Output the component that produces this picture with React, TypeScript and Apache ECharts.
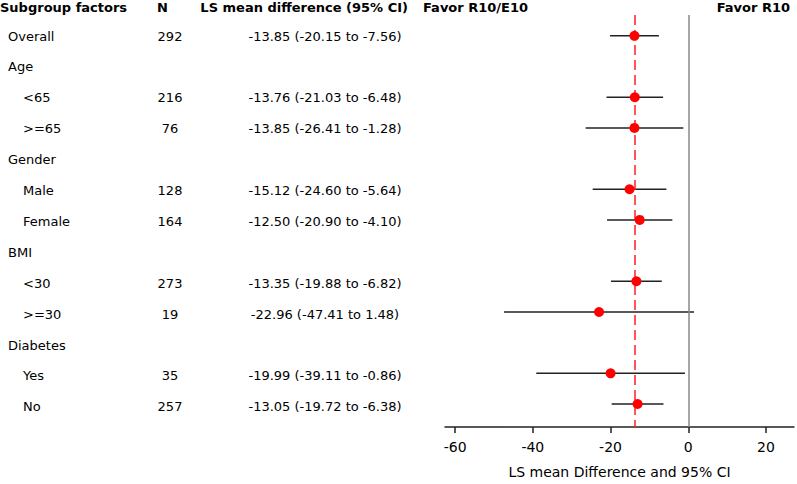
import React, { useEffect, useRef } from "react";
import * as echarts from "echarts";

const rowLabels = ["Overall", "Age", "<65", ">=65", "Gender", "Male", "Female", "BMI", "<30", ">=30", "Diabetes", "Yes", "No"];
const rowIndent = [0, 0, 1, 1, 0, 1, 1, 0, 1, 1, 0, 1, 1];
const nValues: (number | null)[] = [292, null, 216, 76, null, 128, 164, null, 273, 19, null, 35, 257];
const estimates: (number | null)[] = [-13.85, null, -13.76, -13.85, null, -15.12, -12.5, null, -13.35, -22.96, null, -19.99, -13.05];
const lowerCI: (number | null)[] = [-20.15, null, -21.03, -26.41, null, -24.6, -20.9, null, -19.88, -47.41, null, -39.11, -19.72];
const upperCI: (number | null)[] = [-7.56, null, -6.48, -1.28, null, -5.64, -4.1, null, -6.82, 1.48, null, -0.86, -6.38];
const xTicks = [-60, -40, -20, 0, 20];
const headerTexts = ["Subgroup factors", "N", "LS mean difference (95% CI)", "Favor R10/E10", "Favor R10"];
const axisTitle = "LS mean Difference and 95% CI";

const FONT = "DejaVu Sans";

function fmt(v: number) {
  return v.toFixed(2);
}

export default function App() {
  const ref = useRef<HTMLDivElement>(null);
  useEffect(() => {
    document.body.style.margin = "0";
    const chart = echarts.init(ref.current!, null, { renderer: "svg" });

    const yMin = -0.68;
    const yMax = 12.75;

    const ciData: number[][] = [];
    const ptData: number[][] = [];
    rowLabels.forEach((_, i) => {
      if (estimates[i] !== null) {
        ciData.push([lowerCI[i] as number, upperCI[i] as number, i]);
        ptData.push([estimates[i] as number, i]);
      }
    });

    type TI = { x: number; row: number; text: string; align: string };
    const textItems: TI[] = [];
    rowLabels.forEach((lab, i) => {
      textItems.push({ x: rowIndent[i] ? 23 : 8, row: i, text: lab, align: "left" });
      if (nValues[i] !== null) {
        textItems.push({ x: 170, row: i, text: String(nValues[i]), align: "center" });
      }
      if (estimates[i] !== null) {
        textItems.push({
          x: 325,
          row: i,
          text: `${fmt(estimates[i] as number)} (${fmt(lowerCI[i] as number)} to ${fmt(upperCI[i] as number)})`,
          align: "center",
        });
      }
    });

    const headerStyle = (text: string, align: string) => ({
      text,
      fill: "#000",
      font: `bold 13px "${FONT}"`,
      fontFamily: FONT,
      fontWeight: "bold",
      fontSize: 13,
      align,
      textAlign: align,
      verticalAlign: "middle",
      textVerticalAlign: "middle",
    });

    chart.setOption({
      animation: false,
      textStyle: { fontFamily: FONT },
      grid: [
        { left: 445, right: 3, top: 15, bottom: 54 },
        { left: 0, width: 440, top: 15, bottom: 54 },
      ],
      xAxis: [
        {
          type: "value",
          gridIndex: 0,
          min: -62.6,
          max: 27.2,
          splitLine: { show: false },
          axisLine: { show: true, onZero: false, lineStyle: { color: "#222", width: 1.5 } },
          axisTick: {
            show: true,
            customValues: xTicks,
            length: 6,
            lineStyle: { color: "#222", width: 1.5 },
          },
          axisLabel: {
            customValues: xTicks,
            fontSize: 14,
            color: "#000",
            fontFamily: FONT,
            margin: 13,
            formatter: (v: number) => String(v),
          },
          name: axisTitle,
          nameLocation: "middle",
          nameGap: 38,
          nameTextStyle: { fontSize: 14, color: "#000", fontFamily: FONT },
        },
        { type: "value", gridIndex: 1, min: 0, max: 440, show: false },
      ],
      yAxis: [
        { type: "value", gridIndex: 0, min: yMin, max: yMax, inverse: true, show: false },
        { type: "value", gridIndex: 1, min: yMin, max: yMax, inverse: true, show: false },
      ],
      graphic: [
        { type: "text", x: 0, y: 7, style: headerStyle(headerTexts[0], "left") },
        { type: "text", x: 157, y: 7, style: headerStyle(headerTexts[1], "left") },
        { type: "text", x: 408, y: 7, style: headerStyle(headerTexts[2], "right") },
        { type: "text", x: 423, y: 7, style: headerStyle(headerTexts[3], "left") },
        { type: "text", x: 790, y: 7, style: headerStyle(headerTexts[4], "right") },
      ],
      series: [
        {
          type: "custom",
          xAxisIndex: 0,
          yAxisIndex: 0,
          data: ciData,
          encode: { x: [0, 1], y: 2 },
          z: 3,
          renderItem: (params: any, api: any) => {
            const a = api.coord([api.value(0), api.value(2)]);
            const b = api.coord([api.value(1), api.value(2)]);
            return {
              type: "line",
              shape: { x1: a[0], y1: a[1], x2: b[0], y2: b[1] },
              style: { stroke: "#222", lineWidth: 1.5 },
            };
          },
        },
        {
          type: "scatter",
          xAxisIndex: 0,
          yAxisIndex: 0,
          data: ptData,
          symbol: "circle",
          symbolSize: 10,
          itemStyle: { color: "#ff0000", opacity: 1 },
          z: 5,
          markLine: {
            silent: true,
            symbol: "none",
            label: { show: false },
            data: [
              { xAxis: 0, lineStyle: { color: "#888", type: "solid", width: 1.5 } },
              { xAxis: estimates[0], lineStyle: { color: "#ff2020", type: [10, 5], width: 1.5 } },
            ],
          },
        },
        {
          type: "custom",
          xAxisIndex: 1,
          yAxisIndex: 1,
          data: textItems.map((t) => [t.x, t.row]),
          encode: { x: 0, y: 1 },
          renderItem: (params: any, api: any) => {
            const t = textItems[params.dataIndex];
            const p = api.coord([api.value(0), api.value(1)]);
            return {
              type: "text",
              x: p[0],
              y: p[1],
              style: {
                text: t.text,
                fill: "#000",
                font: `13px "${FONT}"`,
                fontFamily: FONT,
                fontSize: 13,
                align: t.align,
                textAlign: t.align,
                verticalAlign: "middle",
                textVerticalAlign: "middle",
              },
            };
          },
        },
      ],
    });
    return () => chart.dispose();
  }, []);
  return <div ref={ref} style={{ width: 797, height: 484 }} />;
}
